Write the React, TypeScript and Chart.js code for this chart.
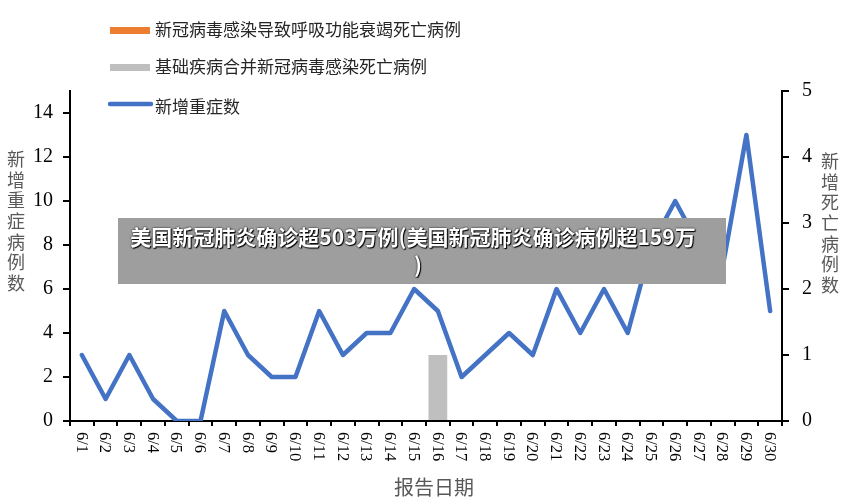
import React, { useEffect, useRef } from "react";
import { Chart, registerables } from "chart.js";

Chart.register(...registerables);

const categories = [
  "6/1", "6/2", "6/3", "6/4", "6/5", "6/6", "6/7", "6/8", "6/9", "6/10",
  "6/11", "6/12", "6/13", "6/14", "6/15", "6/16", "6/17", "6/18", "6/19", "6/20",
  "6/21", "6/22", "6/23", "6/24", "6/25", "6/26", "6/27", "6/28", "6/29", "6/30",
];
const severeCases = [3, 1, 3, 1, 0, 0, 5, 3, 2, 2, 5, 3, 4, 4, 6, 5, 2, 3, 4, 3, 6, 4, 6, 4, 8, 10, 8, 7, 13, 5];
const respiratoryDeaths = [0, 0, 0, 0, 0, 0, 0, 0, 0, 0, 0, 0, 0, 0, 0, 0, 0, 0, 0, 0, 0, 0, 0, 0, 0, 0, 0, 0, 0, 0];
const comorbidDeaths = [0, 0, 0, 0, 0, 0, 0, 0, 0, 0, 0, 0, 0, 0, 0, 1, 0, 0, 0, 0, 0, 0, 0, 0, 0, 0, 0, 0, 0, 0];
const leftTicks = [0, 2, 4, 6, 8, 10, 12, 14];
const rightTicks = [0, 1, 2, 3, 4, 5];

const labelRespiratory = "新冠病毒感染导致呼吸功能衰竭死亡病例";
const labelComorbid = "基础疾病合并新冠病毒感染死亡病例";
const labelSevere = "新增重症数";
const leftTitle = "新增重症病例数";
const rightTitle = "新增死亡病例数";
const xTitle = "报告日期";
const bannerLine1 = "美国新冠肺炎确诊超503万例(美国新冠肺炎确诊病例超159万";
const bannerLine2 = ")";

const ORANGE = "#ED7D31";
const GREY = "#BFBFBF";
const BLUE = "#4472C4";
const SERIF = "'Liberation Serif', 'Times New Roman', serif";
const CJK = "'Noto Sans CJK SC', 'Noto Sans', sans-serif";

const customPlugin = {
  id: "customDraw",
  afterDraw(chart: any) {
    const ctx = chart.ctx;
    const xs = chart.scales.x;
    ctx.save();
    ctx.font = "16.5px " + SERIF;
    ctx.fillStyle = "#000";
    categories.forEach((c, i) => {
      const px = xs.getPixelForValue(i);
      ctx.save();
      ctx.translate(px - 1, 432);
      ctx.rotate(Math.PI / 2);
      ctx.textAlign = "left";
      ctx.textBaseline = "middle";
      ctx.fillText(c, 0, 0);
      ctx.restore();
    });
    ctx.fillStyle = "#595959";
    ctx.font = "18px " + CJK;
    ctx.textAlign = "center";
    ctx.textBaseline = "middle";
    Array.from(leftTitle).forEach((ch, i) => ctx.fillText(ch, 16, 159 + i * 20.7));
    Array.from(rightTitle).forEach((ch, i) => ctx.fillText(ch, 830, 161 + i * 20.7));
    ctx.font = "20px " + CJK;
    ctx.fillText(xTitle, 434, 487);
    ctx.fillStyle = ORANGE;
    ctx.fillRect(110, 27, 40, 7);
    ctx.fillStyle = GREY;
    ctx.fillRect(110, 64, 40, 7);
    ctx.strokeStyle = BLUE;
    ctx.lineWidth = 4.5;
    ctx.lineCap = "round";
    ctx.beginPath();
    ctx.moveTo(110, 104);
    ctx.lineTo(151, 104);
    ctx.stroke();
    ctx.fillStyle = "#262626";
    ctx.font = "17px " + CJK;
    ctx.textAlign = "left";
    ctx.fillText(labelRespiratory, 155, 30);
    ctx.fillText(labelComorbid, 155, 67);
    ctx.fillText(labelSevere, 155, 107);
    ctx.restore();
  },
};

export default function App() {
  const ref = useRef<HTMLCanvasElement>(null);
  useEffect(() => {
    if (!ref.current) return;
    let chart: any = null;
    let cancelled = false;
    const build = () => {
      if (cancelled || !ref.current) return;
      chart = new Chart(ref.current, {
        type: "bar",
        data: {
          labels: categories,
          datasets: [
            {
              type: "line",
              label: labelSevere,
              data: severeCases,
              yAxisID: "y",
              borderColor: BLUE,
              backgroundColor: BLUE,
              borderWidth: 4.5,
              borderJoinStyle: "round",
              borderCapStyle: "round",
              pointRadius: 0,
              tension: 0,
              order: 0,
            } as any,
            {
              type: "bar",
              label: labelRespiratory,
              data: respiratoryDeaths,
              yAxisID: "y2",
              backgroundColor: ORANGE,
              grouped: false,
              barPercentage: 0.79,
              categoryPercentage: 1,
              order: 2,
            } as any,
            {
              type: "bar",
              label: labelComorbid,
              data: comorbidDeaths,
              yAxisID: "y2",
              backgroundColor: GREY,
              grouped: false,
              barPercentage: 0.79,
              categoryPercentage: 1,
              order: 1,
            } as any,
          ],
        },
        options: {
          animation: false,
          responsive: false,
          devicePixelRatio: 1,
          layout: { padding: { top: 91, left: 0, right: 0, bottom: 0 } },
          plugins: { legend: { display: false }, tooltip: { enabled: false } },
          scales: {
            x: {
              type: "category",
              offset: true,
              grid: { display: true, drawOnChartArea: false, offset: true, tickLength: 5, color: "#000", lineWidth: 2 },
              border: { display: true, color: "#000", width: 2 },
              ticks: { display: false },
              afterFit: (s: any) => { s.height = 83; },
            },
            y: {
              position: "left",
              min: 0,
              max: 15,
              grid: { display: true, drawOnChartArea: false, tickLength: 7, color: "#000", lineWidth: 2 },
              border: { display: true, color: "#000", width: 2 },
              ticks: { font: { family: SERIF, size: 20 }, color: "#000", padding: 10 },
              afterBuildTicks: (s: any) => { s.ticks = leftTicks.map((v) => ({ value: v })); },
              afterFit: (s: any) => { s.width = 70; },
            },
            y2: {
              position: "right",
              min: 0,
              max: 5,
              grid: { display: true, drawOnChartArea: false, tickLength: 7, color: "#000", lineWidth: 2 },
              border: { display: true, color: "#000", width: 2 },
              ticks: { font: { family: SERIF, size: 20 }, color: "#000", padding: 13 },
              afterBuildTicks: (s: any) => { s.ticks = rightTicks.map((v) => ({ value: v })); },
              afterFit: (s: any) => { s.width = 64; },
            },
          },
        } as any,
        plugins: [customPlugin],
      });
    };
    const fonts: any = (document as any).fonts;
    if (fonts && fonts.load) {
      Promise.all([
        fonts.load("20px 'Liberation Serif'"),
        fonts.load("17px 'Noto Sans CJK SC'", "新增"),
      ]).then(build, build);
    } else {
      build();
    }
    return () => {
      cancelled = true;
      if (chart) chart.destroy();
    };
  }, []);

  return (
    <div style={{ position: "absolute", left: 0, top: 0, width: 846, height: 504, background: "#fff", overflow: "hidden" }}>
      <canvas ref={ref} width={846} height={504} style={{ display: "block" }} />
      <div
        style={{
          position: "absolute",
          left: 118,
          top: 218,
          width: 608,
          height: 66,
          background: "rgb(158,158,158)",
          color: "#fff",
          fontFamily: CJK,
          fontWeight: 700,
          fontSize: 21,
          letterSpacing: 0,
          lineHeight: "28px",
          textAlign: "center",
          boxSizing: "border-box",
          paddingTop: 4,
          whiteSpace: "nowrap",
          textShadow: "0 0 2px #000, 1px 1px 1px #000",
        }}
      >
        <div style={{ position: "relative", left: -9 }}>{bannerLine1}</div>
        <div style={{ position: "relative", left: -4 }}>{bannerLine2}</div>
      </div>
    </div>
  );
}
